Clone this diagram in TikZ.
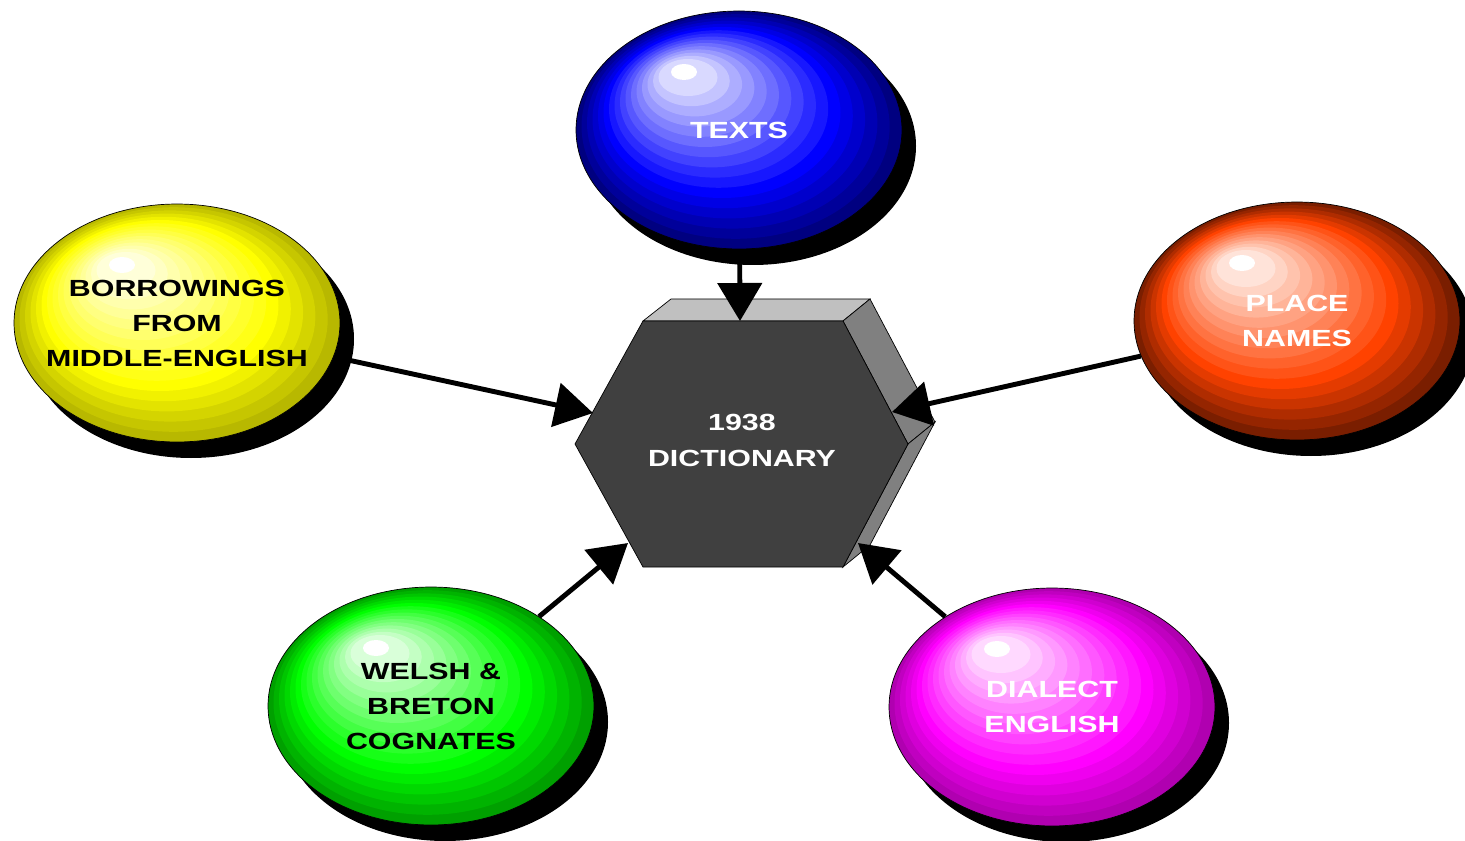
\documentclass[tikz,border=0pt]{standalone}
\usepackage{fontspec}
\newfontfamily\ballfont[FakeStretch=1.3]{Liberation Sans}
\usetikzlibrary{shapes.geometric, arrows.meta}

\definecolor{blueB}{HTML}{0000FF}
\definecolor{blueR}{HTML}{000080}
\definecolor{yellowB}{HTML}{FFFF00}
\definecolor{yellowR}{HTML}{B8B800}
\definecolor{redB}{HTML}{FF4200}
\definecolor{redR}{HTML}{7A1E00}
\definecolor{greenB}{HTML}{00FF00}
\definecolor{greenR}{HTML}{00A000}
\definecolor{pinkB}{HTML}{FF00FF}
\definecolor{pinkR}{HTML}{B000B0}
\definecolor{hexFront}{HTML}{404040}
\definecolor{hexTop}{HTML}{C0C0C0}
\definecolor{hexSide}{HTML}{808080}

\tikzset{
  ball/.style={ellipse, draw=black, line width=0.4pt, inner sep=0pt,
    minimum width=6.52cm, minimum height=4.76cm, align=center,
    font=\ballfont\bfseries\fontsize{13.3}{19.9}\selectfont},
  hexlabel/.style={text=white, align=center,
    font=\ballfont\bfseries\fontsize{13.3}{20.5}\selectfont},
  feed/.style={line width=2.8pt, -{Triangle[length=0.76cm, width=0.88cm]}}
}

% shadow + banded shine of one ball: x, y, base colour, rim colour
\newcommand{\glossball}[4]{%
  \fill[black] (#1+14,#2+16) ellipse [x radius=163, y radius=119];
  \foreach \k in {0,...,15}{
    \pgfmathsetmacro{\bx}{#1-3.4*\k}
    \pgfmathsetmacro{\by}{#2-3.5*\k}
    \pgfmathsetmacro{\rx}{163-8.9*\k}
    \pgfmathsetmacro{\ry}{119-6.7*\k}
    \ifnum\k<5
      \pgfmathtruncatemacro{\p}{20*\k}
      \fill[#3!\p!#4] (\bx,\by) ellipse [x radius=\rx, y radius=\ry];
    \else
      \pgfmathtruncatemacro{\p}{100-8.5*(\k-5)}
      \fill[#3!\p!white] (\bx,\by) ellipse [x radius=\rx, y radius=\ry];
    \fi
  }
  \fill[white] (#1-55,#2-58) ellipse [x radius=13, y radius=8];
}

\begin{document}
\begin{tikzpicture}[x=0.02cm, y=-0.02cm]
\useasboundingbox (0,0) rectangle (1465,841);

% the five balls
\glossball{739}{130}{blueB}{blueR}
\glossball{177}{323}{yellowB}{yellowR}
\glossball{1297}{321}{redB}{redR}
\glossball{431}{706}{greenB}{greenR}
\glossball{1052}{707}{pinkB}{pinkR}

\node[ball, text=white] (texts) at (739,130) {TEXTS};
\node[ball, text=black, inner xsep=-0.5cm] (borrow) at (177,323) {BORROWINGS\\FROM\\MIDDLE-ENGLISH};
\node[ball, text=white] (place) at (1297,321) {PLACE\\NAMES};
\node[ball, text=black] (welsh) at (431,706) {WELSH \&\\BRETON\\COGNATES};
\node[ball, text=white] (dialect) at (1052,707) {DIALECT\\ENGLISH};

% the hexagon block
\filldraw[fill=hexTop, line width=0.4pt] (643,321) -- (671,299) -- (870,299) -- (843,321) -- cycle;
\filldraw[fill=hexSide, line width=0.4pt] (843,321) -- (870,299) -- (935,422) -- (908,444) -- cycle;
\filldraw[fill=hexSide, line width=0.4pt] (908,444) -- (935,422) -- (870,545) -- (843,567) -- cycle;
\filldraw[fill=hexFront, line width=0.4pt] (643,321) -- (843,321) -- (908,444) -- (843,567)
  -- (643,567) -- (575,444) -- cycle;
\node[hexlabel] (dict) at (742,440) {1938\\DICTIONARY};

\coordinate (hexN) at (740,321);
\coordinate (hexW) at (593,413);
\coordinate (hexE) at (892,412);
\coordinate (hexSW) at (628,543);
\coordinate (hexSE) at (858,543);

\draw[feed] (texts) -- (hexN);
\draw[feed] (borrow) -- (hexW);
\draw[feed] (place) -- (hexE);
\draw[feed] (welsh) -- (hexSW);
\draw[feed] (dialect) -- (hexSE);
\end{tikzpicture}
\end{document}
